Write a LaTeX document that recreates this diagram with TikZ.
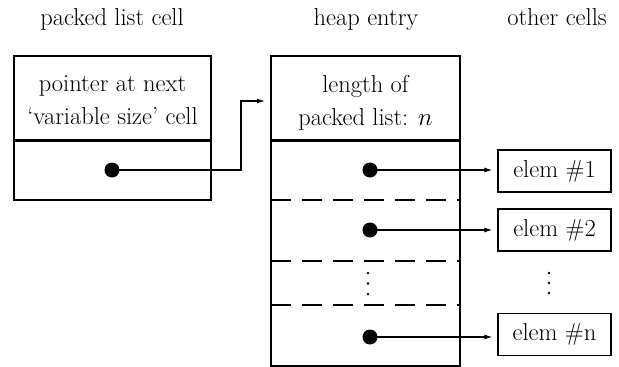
\documentclass[tikz,border=0pt]{standalone}
\usetikzlibrary{arrows.meta}
\begin{document}
\begin{tikzpicture}[x=1pt,y=-1pt,
  every node/.style={font=\fontsize{24.5}{33}\selectfont},
  box/.style={draw,line width=1.3pt,inner sep=0pt,align=center},
  title/.style={inner sep=0pt,anchor=base},
  dot/.style={circle,fill,inner sep=0pt,minimum size=15pt},
  tiny/.style={circle,fill,inner sep=0pt,minimum size=2.6pt},
  ptr/.style={line width=1.1pt,-{Latex[length=8pt,width=5pt]}},
  sep/.style={line width=1.3pt,dashed,dash pattern=on 20pt off 11pt},
  elem/.style={box,minimum width=113pt,minimum height=42pt}]
\useasboundingbox (0,0) rectangle (619,367);

% column headings
\node[title] (t1) at (112,25) {packed list cell};
\node[title] (t2) at (366,25) {heap entry};
\node[title] (t3) at (557,25) {other cells};

% packed list cell
\node[box,minimum width=197pt,minimum height=84pt] (ptrtext) at (112.5,98) {};
\node[align=center] (ptrlbl) at (112.5,100) {pointer at next\\`variable size' cell};
\node[box,minimum width=197pt,minimum height=60pt] (ptrslot) at (112.5,170) {};
\draw[line width=2pt] (ptrtext.south west) -- (ptrtext.south east);
\node[dot] (d0) at (112,170) {};

% heap entry
\node[box,minimum width=189pt,minimum height=84pt] (len) at (365.5,98) {};
\node[align=center] (lenlbl) at (365.5,103) {length of\\packed list: $n$};
\node[box,minimum width=189pt,minimum height=226pt] (body) at (365.5,253) {};
\draw[line width=2pt] (len.south west) -- (len.south east);
\coordinate (r1w) at (271,200); \coordinate (r1e) at (460,200);
\coordinate (r2w) at (271,261); \coordinate (r2e) at (460,261);
\coordinate (r3w) at (271,305); \coordinate (r3e) at (460,305);
\draw[sep] (r1w) -- (r1e);
\draw[sep] (r2w) -- (r2e);
\draw[sep] (r3w) -- (r3e);
\node[dot] (d1) at (370,170) {};
\node[dot] (d2) at (370,230) {};
\node[tiny] (h1) at (368,273) {};
\node[tiny] (h2) at (368,283.5) {};
\node[tiny] (h3) at (368,294) {};
\node[dot] (dn) at (370,337) {};

% other cells
\node[elem] (e1) at (554.5,171) {elem \#1};
\node[elem] (e2) at (554.5,230) {elem \#2};
\node[tiny] (v1) at (549,273) {};
\node[tiny] (v2) at (549,283) {};
\node[tiny] (v3) at (549,293) {};
\node[elem] (en) at (554.5,334.5) {elem \#n};

% pointers
\coordinate (bend) at (241,101);
\coordinate (tip) at (265,101);
\draw[ptr] (d0.center) -| (bend) -- (tip);
\draw[ptr,shorten >=5pt] (d1.center) -- (d1.center -| e1.west);
\draw[ptr,shorten >=5pt] (d2.center) -- (d2.center -| e2.west);
\draw[ptr,shorten >=5pt] (dn.center) -- (dn.center -| en.west);
\end{tikzpicture}
\end{document}
